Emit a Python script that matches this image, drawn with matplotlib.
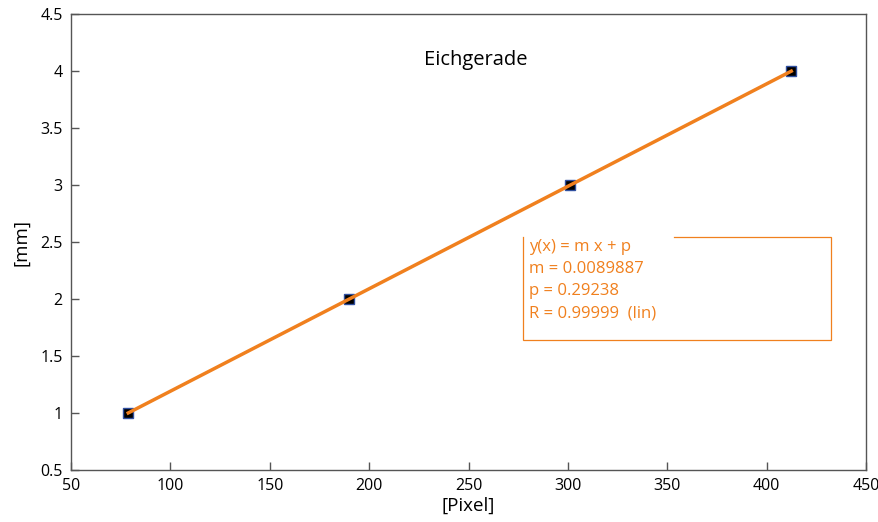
import matplotlib
matplotlib.use("Agg")
import matplotlib.pyplot as plt
import numpy as np

pixel = [78.8, 190.0, 301.2, 412.4]
mm = [1, 2, 3, 4]
m_fit = 0.0089887
p_fit = 0.29238
xticks = [50, 100, 150, 200, 250, 300, 350, 400, 450]
yticks = [0.5, 1, 1.5, 2, 2.5, 3, 3.5, 4, 4.5]
ytick_labels = ["0.5", "1", "1.5", "2", "2.5", "3", "3.5", "4", "4.5"]
fit_text = ["y(x) = m x + p", "m = 0.0089887", "p = 0.29238", "R = 0.99999  (lin)"]

plt.rcParams['font.family'] = ['Open Sans', 'DejaVu Sans']
orange = '#F0801E'

fig = plt.figure(figsize=(8.79, 5.22), dpi=100)
ax = fig.add_axes([0.0808, 0.0996, 0.9044, 0.8734])

xs = np.array([pixel[0], pixel[-1]])
ax.plot(pixel, mm, 's', color='black', markeredgecolor='#3050A0', markersize=6.5, markeredgewidth=1, zorder=2)
ax.plot(xs, m_fit * xs + p_fit, color=orange, lw=2.5, zorder=3)

ax.set_xlim(50, 450)
ax.set_ylim(0.5, 4.5)
ax.set_xticks(xticks)
ax.set_xticklabels([str(v) for v in xticks])
ax.set_yticks(yticks)
ax.set_yticklabels(ytick_labels)
ax.tick_params(direction='in', length=6, width=1, color='#555555', labelsize=11.5, pad=6)
for s in ax.spines.values():
    s.set_color('#555555')
    s.set_linewidth(1)

ax.set_xlabel('[Pixel]', fontsize=13.5, labelpad=2)
ax.set_ylabel('[mm]', fontsize=13.5, labelpad=7)
ax.text(253.8, 4.1, 'Eichgerade', fontsize=14.5, ha='center', va='center')

# fit box
bx0, bx1, by0, by1, gap = 277.4, 432.4, 1.64, 2.544, 353.4
ax.plot([gap, bx1, bx1, bx0, bx0], [by1, by1, by0, by0, by1], color=orange, lw=0.9, solid_joinstyle='miter')
ys_px = [247, 269, 291, 313]
for t, ypx in zip(fit_text, ys_px):
    yv = 0.5 + (470 - ypx) / 114.0
    ax.text(bx0 + 3, yv, t, color=orange, fontsize=12, ha='left', va='center')

fig.savefig('out.png', dpi=100)
